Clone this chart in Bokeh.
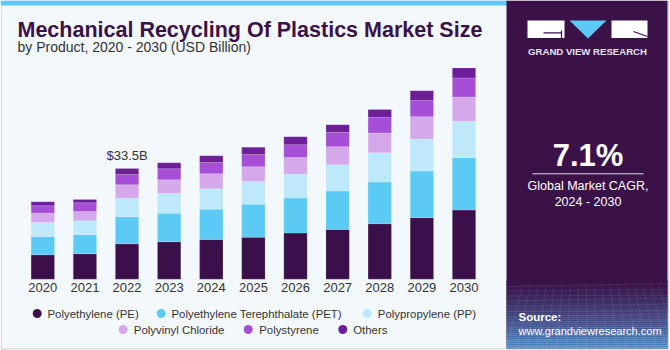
from bokeh.plotting import figure
from bokeh.models import ColumnDataSource, Range1d
from bokeh.core.properties import value
from bokeh.embed import file_html
from bokeh.resources import INLINE

# ---------------- data (USD Billion) ----------------
years = ["2020", "2021", "2022", "2023", "2024", "2025", "2026", "2027", "2028", "2029", "2030"]
series = ["Polyethylene (PE)", "Polyethylene Terephthalate (PET)", "Polypropylene (PP)",
          "Polyvinyl Chloride", "Polystyrene", "Others"]
pe     = [7.38, 7.69, 10.71, 11.32, 12.01, 12.71, 13.95, 15.07, 16.79, 18.61, 20.91]
pet    = [5.54, 5.84, 8.17, 8.65, 9.17, 9.98, 10.59, 11.59, 12.59, 14.10, 15.86]
pp     = [4.24, 4.15, 5.63, 5.96, 6.17, 6.87, 7.26, 7.99, 8.90, 9.68, 11.01]
pvc    = [2.81, 2.81, 4.05, 4.15, 4.54, 4.45, 5.05, 5.45, 5.93, 6.78, 7.38]
ps     = [2.24, 2.63, 3.12, 3.33, 3.42, 3.72, 3.84, 4.33, 4.75, 4.93, 5.75]
others = [1.21, 1.00, 1.82, 1.82, 2.03, 2.21, 2.42, 2.33, 2.42, 2.93, 3.03]
label_year = "2022"
cagr_text = "7.1%"
cagr_caption = ["Global Market CAGR,", "2024 - 2030"]

colors = ["#3a0f4a", "#5bcaf5", "#bde9fa", "#d5a8ec", "#a64fd6", "#6d1f9a"]

# ---------------- geometry helpers (pixel layout -> data coords) ----------------
W, H = 670, 350
X0, SX = 42.3, 42.12      # px of first category, px per category
BASE, SY = 278.7, 3.305   # px (from top) of zero line, px per billion


def fx(xp):
    return (xp - X0) / SX


def fy(yp):
    return (BASE - yp) / SY


FONT = value("Liberation Sans")

p = figure(width=W, height=H, output_backend="svg", toolbar_location=None,
           x_range=Range1d(fx(0), fx(W)), y_range=Range1d(fy(H), fy(0)),
           x_axis_location=None, y_axis_location=None, min_border=0,
           background_fill_color="white", border_fill_color="white")
p.outline_line_color = None
p.grid.visible = False

# card background
p.quad(left=fx(1), right=fx(668), top=fy(0.5), bottom=fy(348.5),
       fill_color="#f3f8fc", line_color="#d2d4d6", line_width=1)
# top blue stripe
p.quad(left=fx(0), right=fx(507), top=fy(0), bottom=fy(5),
       fill_color="#5bc8f5", line_color=None)

# ---------------- right panel ----------------
p.quad(left=fx(506), right=fx(667), top=fy(0), bottom=fy(348),
       fill_color="#3a1248", line_color=None)


def lerp(c1, c2, t):
    a = [int(c1[i:i + 2], 16) for i in (1, 3, 5)]
    b = [int(c2[i:i + 2], 16) for i in (1, 3, 5)]
    return "#%02x%02x%02x" % tuple(int(round(a[k] + (b[k] - a[k]) * t)) for k in range(3))


n = 34
y_start, y_end = 280.0, 348.0
for i in range(n):
    t = i / (n - 1)
    yt = y_start + (y_end - y_start) * i / n
    yb = y_start + (y_end - y_start) * (i + 1) / n
    c = lerp("#3a1248", "#4fa8e0", t ** 1.3)
    p.quad(left=fx(506), right=fx(667), top=fy(yt), bottom=fy(yb), fill_color=c, line_color=None)

# faint wireframe
for k in range(14):
    yy = 286 + k * 4.6 + k * k * 0.08
    p.line([fx(506), fx(667)], [fy(yy), fy(yy - 3 + (k % 3))], line_color="white", line_alpha=0.10, line_width=0.8)
for k in range(18):
    xb = 506 + k * 10
    p.line([fx(xb), fx(506 + (xb - 506) * 0.8 + 16)], [fy(348), fy(284)], line_color="white", line_alpha=0.10, line_width=0.8)

# logo
p.quad(left=fx(527), right=fx(564), top=fy(20), bottom=fy(37.5), fill_color="white", line_color=None)
p.quad(left=fx(611), right=fx(647), top=fy(20), bottom=fy(37.5), fill_color="white", line_color=None)
p.patch([fx(569), fx(606), fx(587.5)], [fy(20), fy(20), fy(38)], fill_color="#5bc8f5", line_color=None)
p.line([fx(543), fx(561)], [fy(32.3), fy(32.3)], line_color="#3a1248", line_width=1.2)
p.line([fx(561), fx(561)], [fy(30), fy(37.5)], line_color="#3a1248", line_width=1.2)
p.line([fx(633), fx(647)], [fy(31), fy(36)], line_color="#3a1248", line_width=1.2)
p.text(x=[fx(587)], y=[fy(50.5)], text=["GRAND VIEW RESEARCH"], text_font=FONT,
       text_font_style="bold", text_font_size="9.6px", text_color="#e8e2ee",
       text_align="center", text_baseline="middle")

# CAGR
p.text(x=[fx(587.5)], y=[fy(155)], text=[cagr_text], text_font=FONT,
       text_font_style="bold", text_font_size="31px", text_color="white",
       text_align="center", text_baseline="middle")
p.line([fx(532), fx(643)], [fy(173.3), fy(173.3)], line_color="#e0dbe6", line_width=1)
p.text(x=[fx(587.5), fx(587.5)], y=[fy(185.5), fy(201)], text=cagr_caption,
       text_font=FONT, text_font_size="12.5px", text_color="white",
       text_align="center", text_baseline="middle")

# source
p.text(x=[fx(518)], y=[fy(316)], text=["Source:"], text_font=FONT,
       text_font_style="bold", text_font_size="11.5px", text_color="white",
       text_align="left", text_baseline="middle")
p.text(x=[fx(518)], y=[fy(330)], text=["www.grandviewresearch.com"], text_font=FONT,
       text_font_size="11px", text_color="white", text_align="left", text_baseline="middle")

# ---------------- titles ----------------
p.text(x=[fx(17)], y=[fy(29.5)], text=["Mechanical Recycling Of Plastics Market Size"],
       text_font=FONT, text_font_style="bold", text_font_size="21.5px",
       text_color="#3a1248", text_align="left", text_baseline="middle")
p.text(x=[fx(17)], y=[fy(46.5)], text=["by Product, 2020 - 2030 (USD Billion)"],
       text_font=FONT, text_font_size="14px",
       text_color="#333333", text_align="left", text_baseline="middle")

# ---------------- bars ----------------
keys = ["pe", "pet", "pp", "pvc", "ps", "others"]
idx = list(range(len(years)))
src = ColumnDataSource(dict(x=idx, pe=pe, pet=pet, pp=pp, pvc=pvc, ps=ps, others=others))
p.vbar_stack(keys, x="x", width=0.555, source=src, fill_color=colors,
             line_color="white", line_alpha=0.25, line_width=0.6)

# year labels (category axis)
p.text(x=idx, y=[fy(286.5)] * len(years), text=years, text_font=FONT,
       text_font_size="13px", text_color="#333333", text_align="center", text_baseline="middle")

# value label
li = years.index(label_year)
tot = pe[li] + pet[li] + pp[li] + pvc[li] + ps[li] + others[li]
p.text(x=[li], y=[tot], text=["$%.1fB" % tot], y_offset=-13, text_font=FONT,
       text_font_size="13px", text_color="#333333", text_align="center", text_baseline="middle")

# ---------------- legend (custom two-row) ----------------
leg_row = [0, 0, 0, 1, 1, 1]
leg_mx = [36.7, 160.7, 366.7, 122.7, 247.7, 342.3]
leg_tx = [47, 171, 377.3, 133.3, 258.7, 352.7]
leg_y = [313, 329]
p.scatter(x=[fx(v) for v in leg_mx], y=[fy(leg_y[r]) for r in leg_row], size=9,
          fill_color=colors, line_color=None, marker="circle")
p.text(x=[fx(v) for v in leg_tx], y=[fy(leg_y[r]) for r in leg_row], text=series,
       text_font=FONT, text_font_size="11.4px", text_color="#333333",
       text_align="left", text_baseline="middle")

open("out.html", "w").write(file_html(p, INLINE))
